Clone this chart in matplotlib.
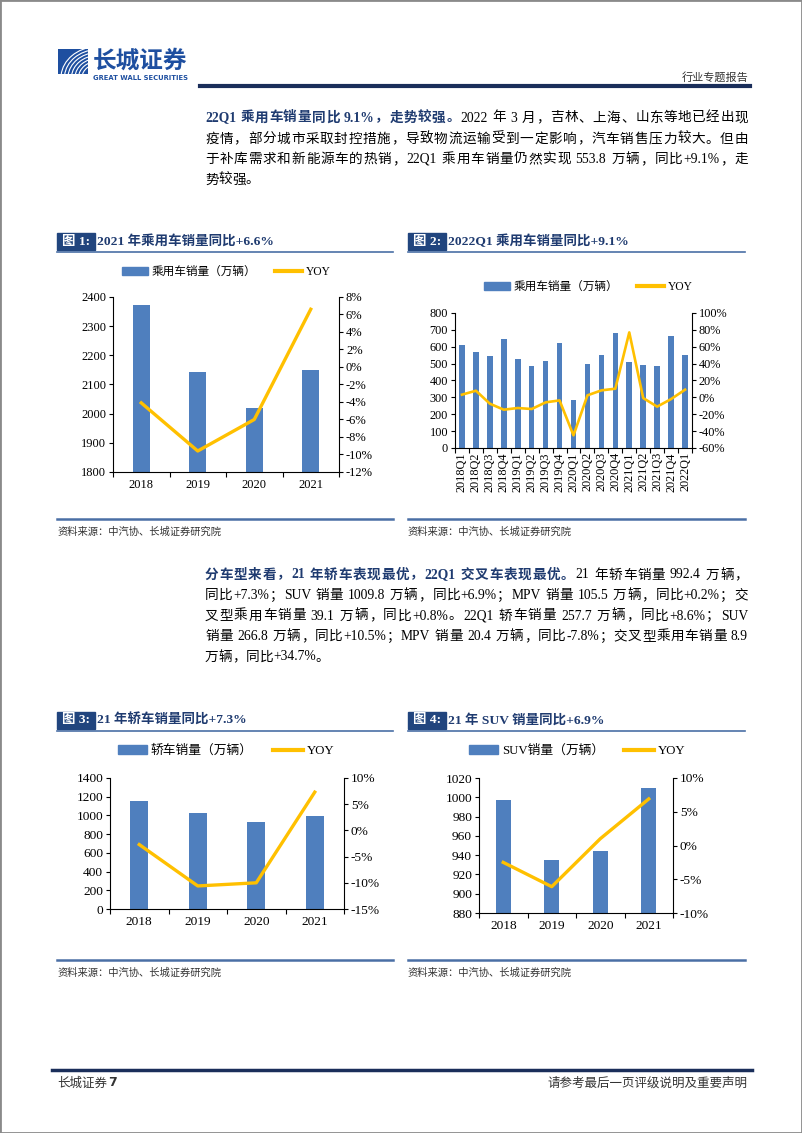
import re
import numpy as np
import matplotlib
matplotlib.use("Agg")
from matplotlib import pyplot as plt
from matplotlib.patches import Rectangle, Arc, Patch
from matplotlib.lines import Line2D
from matplotlib.ticker import FuncFormatter

# ---- data ----
years = ["2018", "2019", "2020", "2021"]
pc_sales = [2371, 2144, 2018, 2148]          # 乘用车销量（万辆）
pc_yoy = [-4.1, -9.6, -6.0, 6.6]              # %

quarters = ["2018Q1", "2018Q2", "2018Q3", "2018Q4", "2019Q1", "2019Q2", "2019Q3", "2019Q4",
            "2020Q1", "2020Q2", "2020Q3", "2020Q4", "2021Q1", "2021Q2", "2021Q3", "2021Q4", "2022Q1"]
q_sales = [612, 569, 547, 648, 527, 488, 514, 624, 286, 498, 553, 681, 510, 494, 488, 664, 553.8]
q_yoy = [3.2, 7.9, -7.5, -14.6, -12.6, -13.8, -5.9, -3.6, -45.0, 2.4, 8.3, 10.3, 77.0, -0.8, -11.0, -2.0, 9.1]

sedan_sales = [1153, 1031, 925, 992.4]
sedan_yoy = [-2.7, -10.6, -10.0, 7.3]

suv_sales = [997, 935.3, 944.7, 1009.8]
suv_yoy = [-2.5, -6.1, 1.0, 6.9]

W, H = 802, 1133
FAM = ['Liberation Serif', 'Noto Sans CJK SC']
NAVY = '#1F3B70'
BAR_C = '#4F7FBE'
LINE_C = '#FFC000'
RULE_C = '#4A6FA5'

plt.rcParams['font.family'] = FAM
plt.rcParams['axes.unicode_minus'] = False

fig = plt.figure(figsize=(W / 100, H / 100), dpi=100)
renderer = fig.canvas.get_renderer()


def fx(x):
    return x / W


def fy(y):
    return 1 - y / H


def rect(x0, y0, x1, y1):
    return [x0 / W, 1 - y1 / H, (x1 - x0) / W, (y1 - y0) / H]


def hline(x0, x1, y, color, lw):
    fig.add_artist(Line2D([fx(x0), fx(x1)], [fy(y), fy(y)], color=color, lw=lw,
                          transform=fig.transFigure))


# page frame
fig.add_artist(Rectangle((0, 0), 1, 1, fill=False, ec='#8a8a8a', lw=2, transform=fig.transFigure))

# logo
lax = fig.add_axes(rect(58, 49, 88, 74))
lax.set_xlim(0, 1)
lax.set_ylim(0, 1)
lax.set_facecolor('#1E4FA0')
lax.set_xticks([])
lax.set_yticks([])
for s in lax.spines.values():
    s.set_visible(False)
for r in np.linspace(0.55, 1.25, 7):
    lax.add_patch(Arc((1.35, -0.15), 2 * r, 2 * r, theta1=95, theta2=175, color='white', lw=0.8))
fig.text(fx(93), fy(61), "长城证券", fontsize=17, fontweight='bold', color='#1E4FA0',
         family=['Noto Sans CJK SC'], va='center', ha='left')
fig.text(fx(93), fy(77.5), "GREAT WALL SECURITIES", fontsize=4.9, fontweight='bold',
         color='#1E4FA0', family=['DejaVu Sans'], va='center', ha='left')

# header
fig.text(fx(748), fy(77), "行业专题报告", fontsize=8, color='#333333', va='center', ha='right')
hline(200, 750, 86, '#1A2E5A', 3)


def tokens(s):
    return re.findall(r'[A-Za-z0-9.%+\-]+| |.', s)


def draw_line(segs, y, x0=205, x1=748, justify=True, size=9.8):
    items = []
    sp = 0.25 * size * 100 / 72
    for text, bold, color in segs:
        for tk in tokens(text):
            if tk == ' ':
                items.append((None, sp))
                continue
            t = fig.text(0, fy(y), tk, fontsize=size, fontweight='bold' if bold else 'normal',
                         color=color, va='center', ha='left')
            items.append((t, t.get_window_extent(renderer).width))
    total = sum(w for _, w in items)
    gap = (x1 - x0 - total) / (len(items) - 1) if justify else 0
    x = x0
    for t, w in items:
        if t is not None:
            t.set_x(fx(x))
        x += w + gap


# paragraph 1
draw_line([("22Q1 乘用车销量同比 9.1%，走势较强。", True, NAVY),
           ("2022 年 3 月，吉林、上海、山东等地已经出现", False, 'black')], 118)
draw_line([("疫情，部分城市采取封控措施，导致物流运输受到一定影响，汽车销售压力较大。但由", False, 'black')], 139)
draw_line([("于补库需求和新能源车的热销，22Q1 乘用车销量仍然实现 553.8 万辆，同比+9.1%，走", False, 'black')], 159.5)
draw_line([("势较强。", False, 'black')], 180, justify=False)

# paragraph 2
draw_line([("分车型来看，21 年轿车表现最优，22Q1 交叉车表现最优。", True, NAVY),
           ("21 年轿车销量 992.4 万辆，", False, 'black')], 575)
draw_line([("同比+7.3%；SUV 销量 1009.8 万辆，同比+6.9%；MPV 销量 105.5 万辆，同比+0.2%；交", False, 'black')], 595.5)
draw_line([("叉型乘用车销量 39.1 万辆，同比+0.8%。22Q1 轿车销量 257.7 万辆，同比+8.6%；SUV", False, 'black')], 616)
draw_line([("销量 266.8 万辆，同比+10.5%；MPV 销量 20.4 万辆，同比-7.8%；交叉型乘用车销量 8.9", False, 'black')], 636.5)
draw_line([("万辆，同比+34.7%。", False, 'black')], 657, justify=False)


def chart_frame(x0, x1, y_title, y_bottom, num, title):
    fig.add_artist(Rectangle((fx(x0), fy(y_title + 8.5)), 38 / W, 17 / H, color='#21457E',
                             transform=fig.transFigure))
    fig.text(fx(x0 + 19), fy(y_title), f"图 {num}:", fontsize=9.7, fontweight='bold', color='white',
             va='center', ha='center')
    fig.text(fx(x0 + 40), fy(y_title), title, fontsize=9.7, fontweight='bold', color=NAVY,
             va='center', ha='left')
    hline(x0, x1, y_title + 10.5, RULE_C, 1.2)
    hline(x0, x1, y_bottom, RULE_C, 1.8)
    fig.text(fx(x0), fy(y_bottom + 13), "资料来源：中汽协、长城证券研究院", fontsize=7.4,
             style='italic', color='#333333', va='center', ha='left')


def chart(r, cats, bars, yoy, bar_w, ylim, yticks, y2lim, y2ticks, size, label, leg_xy,
          lw, rot=0, xpad=5, leg_size=8.4):
    ax = fig.add_axes(r)
    x = np.arange(len(cats))
    ax.bar(x, bars, width=bar_w, color=BAR_C, zorder=2)
    ax.set_xlim(-0.5, len(cats) - 0.5)
    ax.set_ylim(*ylim)
    ax.set_yticks(yticks)
    ax.set_xticks(x)
    ax.set_xticklabels(cats, rotation=rot, fontsize=size)
    ax.set_xticks(np.arange(len(cats) + 1) - 0.5, minor=True)
    ax.tick_params(axis='x', which='major', length=0, pad=xpad)
    ax.tick_params(axis='x', which='minor', length=3.5, width=0.8, direction='out')
    ax.tick_params(axis='y', length=3, width=0.8, labelsize=size, pad=2)
    for s in ('top', 'right'):
        ax.spines[s].set_visible(False)
    for s in ('left', 'bottom'):
        ax.spines[s].set_linewidth(0.8)
    ax.patch.set_alpha(0)

    ax2 = ax.twinx()
    ax2.plot(x, yoy, color=LINE_C, lw=lw, solid_joinstyle='round')
    ax2.set_ylim(*y2lim)
    ax2.set_yticks(y2ticks)
    ax2.yaxis.set_major_formatter(FuncFormatter(lambda v, p: f"{v:.0f}%"))
    ax2.tick_params(axis='y', length=3, width=0.8, labelsize=size, pad=2)
    for s in ('top', 'left', 'bottom'):
        ax2.spines[s].set_visible(False)
    ax2.spines['right'].set_linewidth(0.8)

    handles = [Patch(color=BAR_C), Line2D([0], [0], color=LINE_C, lw=3)]
    fig.legend(handles, [label, "YOY"], loc='center', bbox_to_anchor=leg_xy,
               bbox_transform=fig.transFigure, ncol=2, frameon=False, fontsize=leg_size,
               handlelength=2.3, handleheight=0.65, handletextpad=0.3, columnspacing=1.6)
    return ax, ax2


# figure 1
chart_frame(57, 393, 241.5, 519, 1, "2021 年乘用车销量同比+6.6%")
chart(rect(113, 297, 339, 472), years, pc_sales, pc_yoy, 0.3, (1800, 2400),
      np.arange(1800, 2401, 100), (-12, 8), np.arange(-12, 9, 2), 9, "乘用车销量（万辆）",
      (fx(226), fy(272)), 2.4)

# figure 2
chart_frame(408, 745, 241.5, 519, 2, "2022Q1 乘用车销量同比+9.1%")
chart(rect(455, 313, 692, 448), quarters, q_sales, q_yoy, 0.4, (0, 800),
      np.arange(0, 801, 100), (-60, 100), np.arange(-60, 101, 20), 8.8, "乘用车销量（万辆）",
      (fx(588), fy(287)), 1.9, rot=90, xpad=3)

# figure 3
chart_frame(57, 393, 720, 960, 3, "21 年轿车销量同比+7.3%")
chart(rect(110, 778, 344, 909), years, sedan_sales, sedan_yoy, 0.31, (0, 1400),
      np.arange(0, 1401, 200), (-15, 10), np.arange(-15, 11, 5), 9.6, "轿车销量（万辆）",
      (fx(226), fy(751)), 2.4, leg_size=9.2)

# figure 4
chart_frame(408, 745, 720, 960, 4, "21 年 SUV 销量同比+6.9%")
chart(rect(479, 778, 673, 913), years, suv_sales, suv_yoy, 0.31, (880, 1020),
      np.arange(880, 1021, 20), (-10, 10), np.arange(-10, 11, 5), 9.6, "SUV销量（万辆）",
      (fx(577), fy(751)), 2.4, leg_size=9.2)

# footer
hline(52, 752, 1070, '#1A2E5A', 2.5)
ft = fig.text(fx(57), fy(1083), "长城证券", fontsize=9, color='#333333', va='center', ha='left',
              family=['Noto Sans CJK SC'])
fw = ft.get_window_extent(renderer).width
fig.text(fx(57 + fw + 1), fy(1083), "7", fontsize=9, fontweight='bold', color='#333333',
         va='center', ha='left', family=['DejaVu Sans'])
fig.text(fx(748), fy(1083), "请参考最后一页评级说明及重要声明", fontsize=9, color='#333333',
         va='center', ha='right', family=['Noto Sans CJK SC'])

fig.savefig("out.png", dpi=100)
